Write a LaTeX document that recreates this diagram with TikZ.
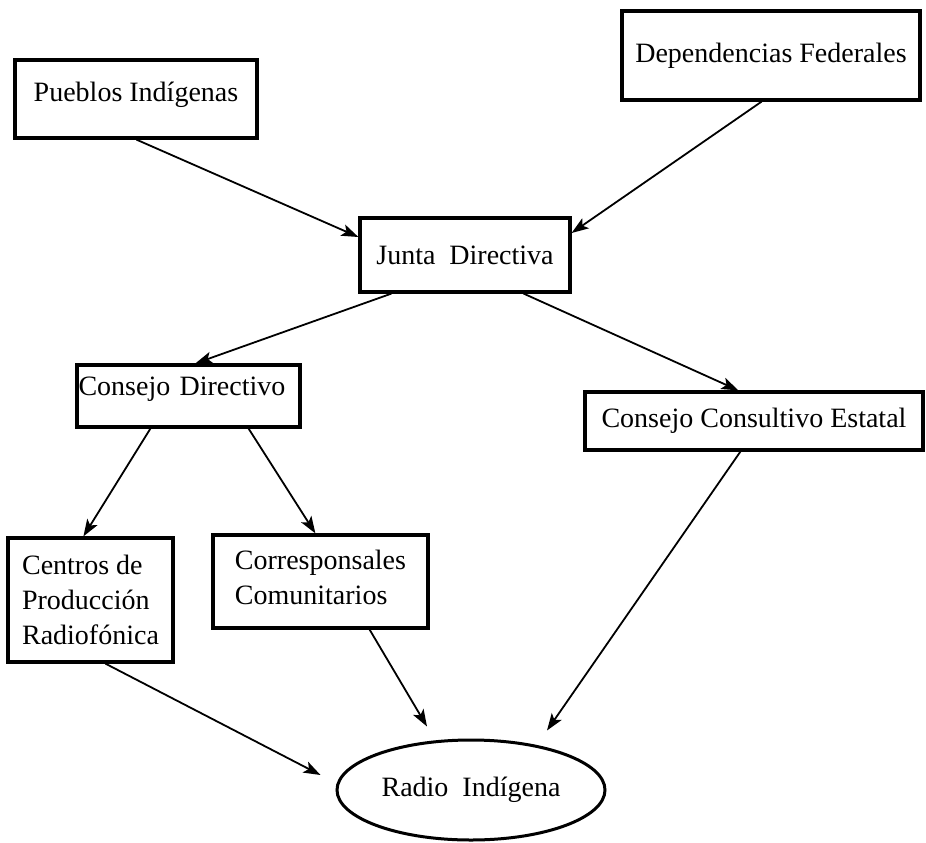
\documentclass[tikz,border=0pt]{standalone}
\usepackage{fontspec}
\setmainfont{Liberation Serif}
\usetikzlibrary{arrows.meta,shapes.geometric}
\begin{document}
\begin{tikzpicture}[x=1pt,y=-1pt,
  box/.style={draw, line width=3.2pt, rectangle, inner sep=0pt, align=center,
    font=\fontsize{28pt}{35pt}\selectfont},
  oval/.style={draw, line width=3pt, ellipse, inner sep=0pt,
    font=\fontsize{28pt}{35pt}\selectfont},
  arr/.style={line width=1.8pt, -{Stealth[length=17pt,width=12pt,inset=4pt]}}]
\useasboundingbox (0,0) rectangle (926,843);
\node[box, minimum width=242pt, minimum height=78pt, text depth=14pt] (pueblos) at (136,99) {Pueblos Indígenas};
\node[box, minimum width=298pt, minimum height=89pt] (depend) at (771,55.5) {Dependencias Federales};
\node[box, minimum width=210pt, minimum height=74pt] (junta) at (465,255) {Junta\hspace{0.5em}Directiva};
\node[box, minimum width=223pt, minimum height=62pt, text width=220pt, align=left, text depth=20pt] (cdir) at (188.5,396) {Consejo Directivo};
\node[box, minimum width=338pt, minimum height=58pt] (consult) at (754,421) {Consejo Consultivo Estatal};
\node[box, minimum width=165pt, minimum height=124pt, align=left] (centros) at (90.5,600) {Centros de\\Producción\\Radiofónica};
\node[box, minimum width=215pt, minimum height=93pt, align=left, text depth=8pt] (corresp) at (320.5,581.5) {Corresponsales\\Comunitarios};
\node[oval, minimum width=268pt, minimum height=100pt] (radio) at (471,790) {Radio\hspace{0.5em}Indígena};

\draw[arr] ([xshift=123pt]pueblos.south west) -- ([yshift=18pt]junta.west);
\draw[arr] ([xshift=-160pt]depend.south east) -- ([yshift=22pt]junta.east);
\draw[arr] ([xshift=33pt]junta.south west) -- ([xshift=120pt]cdir.north west);
\draw[arr] ([xshift=-48pt]junta.south east) -- ([xshift=155pt]consult.north west);
\draw[arr] ([xshift=75pt]cdir.south west) -- ([xshift=77pt]centros.north west);
\draw[arr] ([xshift=-53pt]cdir.south east) -- ([xshift=104pt]corresp.north west);
\draw[arr] ([xshift=99pt]centros.south west) -- ([xshift=-15pt,yshift=15pt]radio.west);
\draw[arr] ([xshift=-60pt]corresp.south east) -- ([xshift=-44pt,yshift=12pt]radio.north);
\draw[arr] ([xshift=157pt]consult.south west) -- ([xshift=76pt,yshift=8pt]radio.north);
\end{tikzpicture}
\end{document}
